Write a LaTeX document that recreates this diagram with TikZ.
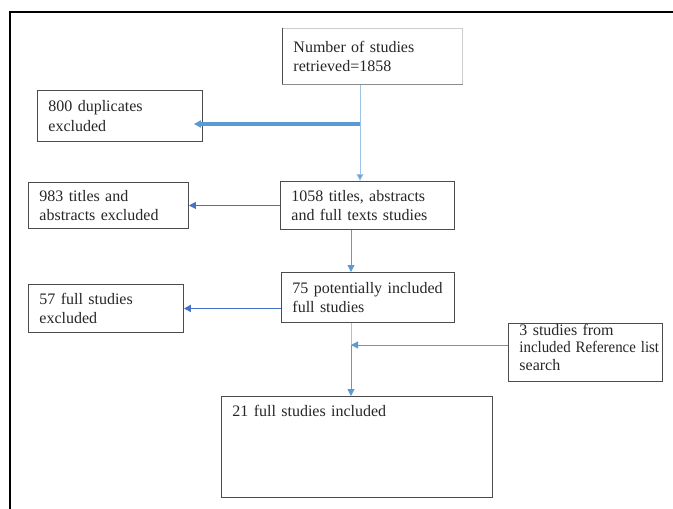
\documentclass[tikz,border=0pt]{standalone}
\usepackage{fontspec}
\setmainfont{Liberation Serif}
\usetikzlibrary{arrows.meta}
\definecolor{lineblue}{RGB}{91,155,213}
\definecolor{paleblue}{RGB}{160,196,230}
\definecolor{darkblue}{RGB}{68,114,196}
\tikzset{
  box/.style={draw=black!70, line width=0.9pt, anchor=north west, inner xsep=11pt,
    inner ysep=3pt, align=left, font=\fontsize{16}{19.5}\selectfont, text=black!85},
  flow/.style={lineblue, line width=1pt, -{Triangle[length=7pt,width=7pt]}},
}
\begin{document}
\begin{tikzpicture}[x=1pt,y=-1pt]
      \useasboundingbox (0,0) rectangle (673,509);
      \draw[line width=2pt] (10,509) -- (10,12) -- (673,12);
      \node[box, draw=black!20, text width=158pt, minimum height=56pt] (top) at (282,28)
        {Number of studies\\retrieved=1858};
      \draw[black!70, line width=1pt] (top.north west) -- (top.south west);
      \draw[black!45, line width=1pt] (top.south west) -- (top.south east);
      \node[box, text width=143pt, minimum height=51pt] (dup) at (37,90)
        {800 duplicates\\excluded};
      \node[box, text width=138pt, minimum height=46pt] (n983) at (28,182)
        {983 titles and\\abstracts excluded};
      \node[box, text width=152pt, minimum height=48pt] (n1058) at (280,181)
        {1058 titles, abstracts\\and full texts studies};
      \node[box, text width=151pt, minimum height=50pt] (n75) at (281,272)
        {75 potentially included\\full studies};
      \node[box, text width=133pt, minimum height=48pt] (n57) at (28,284)
        {57 full studies\\excluded};
      \node[box, text width=132pt, text height=9pt, text depth=43pt,
        font=\fontsize{16}{17.5}\selectfont] (ref) at (508,323)
        {3 studies from\\\scalebox{0.93}[1]{included Reference list}\\search};
      \node[box, text width=249pt, text height=12pt, text depth=73pt, inner ysep=8pt] (n21) at (221,396)
        {21 full studies included};
      \coordinate (spine) at (351,0);
      \coordinate (upper) at (360,0);
      \coordinate (dupfork) at (360,124);
      \coordinate (reffork) at (351,345);
      \begin{scope}[flow]
        \draw[paleblue, -{Triangle[length=7pt,width=7pt,fill=lineblue]}]
          (top.south -| upper) -- (n1058.north -| upper);
        \draw[line width=3.2pt, shorten >=-9pt] (dupfork) -- (dup.east |- dupfork);
        \draw[darkblue] (n1058.west) -- (n983.east);
        \draw (n1058.south -| spine) -- (n75.north -| spine);
        \draw[darkblue, line width=1.8pt] (n75.west |- n57.west) -- (n57.east);
        \draw[paleblue, -] (n75.south -| spine) -- (reffork);
        \draw (ref.west |- reffork) -- (reffork);
        \draw (reffork) -- (n21.north -| spine);
      \end{scope}
    \end{tikzpicture}
\end{document}
